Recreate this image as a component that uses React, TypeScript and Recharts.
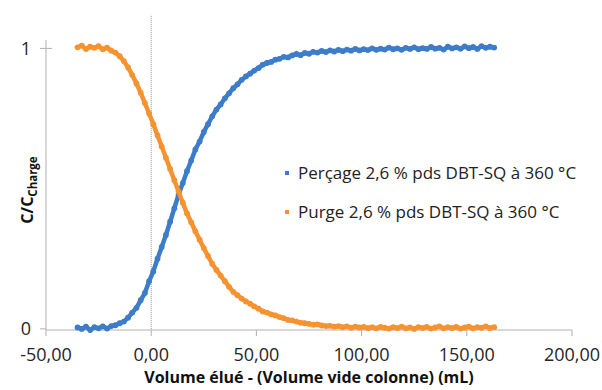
import { ScatterChart, Scatter, XAxis, YAxis, ReferenceLine } from 'recharts';

// volume élué - volume vide colonne (mL)
const volumes = [
  -35, -33, -31, -29, -27, -25, -23, -21, -19, -17,
  -15, -13, -11, -9, -7, -5, -3, -1, 1, 3,
  5, 7, 9, 11, 13, 15, 17, 19, 21, 23,
  25, 27, 29, 31, 33, 35, 37, 39, 41, 43,
  45, 47, 49, 51, 53, 55, 57, 59, 61, 63,
  65, 67, 69, 71, 73, 75, 77, 79, 81, 83,
  85, 87, 89, 91, 93, 95, 97, 99, 101, 103,
  105, 107, 109, 111, 113, 115, 117, 119, 121, 123,
  125, 127, 129, 131, 133, 135, 137, 139, 141, 143,
  145, 147, 149, 151, 153, 155, 157, 159, 161, 163,
];

const percage = [
  0.005, 0.0, 0.008, -0.004, 0.006, 0.002, 0.009, 0.001, 0.01, 0.013,
  0.02, 0.026, 0.04, 0.058, 0.075, 0.102, 0.128, 0.17, 0.205, 0.25,
  0.292, 0.335, 0.382, 0.43, 0.478, 0.52, 0.562, 0.6, 0.64, 0.668,
  0.702, 0.73, 0.758, 0.782, 0.8, 0.822, 0.84, 0.858, 0.872, 0.888,
  0.9, 0.91, 0.921, 0.93, 0.942, 0.948, 0.952, 0.96, 0.963, 0.97,
  0.968, 0.975, 0.98, 0.976, 0.984, 0.981, 0.988, 0.985, 0.991, 0.987,
  0.993, 0.989, 0.995, 0.99, 0.996, 0.992, 0.998, 0.993, 0.997, 0.994,
  1.0, 0.995, 0.999, 0.996, 1.003, 0.997, 1.0, 0.995, 1.002, 0.998,
  1.004, 0.997, 1.001, 0.998, 1.005, 0.999, 1.002, 0.996, 1.006, 1.0,
  1.004, 0.999, 1.007, 1.001, 1.005, 0.998, 1.008, 1.002, 1.006, 1.003,
];

const purge = [
  1.004, 1.01, 0.998, 1.006, 1.002, 1.008, 0.997, 1.003, 0.992, 0.985,
  0.972, 0.955, 0.932, 0.905, 0.875, 0.842, 0.805, 0.768, 0.73, 0.69,
  0.65, 0.61, 0.57, 0.53, 0.49, 0.45, 0.412, 0.38, 0.348, 0.318,
  0.288, 0.26, 0.232, 0.21, 0.19, 0.17, 0.15, 0.132, 0.12, 0.108,
  0.098, 0.09, 0.08, 0.072, 0.062, 0.058, 0.052, 0.048, 0.042, 0.038,
  0.032, 0.03, 0.026, 0.022, 0.02, 0.018, 0.015, 0.016, 0.012, 0.01,
  0.011, 0.008, 0.01, 0.006, 0.009, 0.004, 0.008, 0.005, 0.007, 0.003,
  0.006, 0.002, 0.007, 0.004, 0.001, 0.006, 0.003, 0.008, 0.002, 0.005,
  0.0, 0.006, 0.003, 0.007, 0.001, 0.005, 0.009, 0.002, 0.006, 0.003,
  0.007, 0.001, 0.005, 0.008, 0.002, 0.006, 0.004, 0.009, 0.003, 0.006,
];

const xTicks = [-50, 0, 50, 100, 150, 200];
const yTicks = [0, 1];
const seriesNames = ['Perçage 2,6 % pds DBT-SQ à 360 °C', 'Purge 2,6 % pds DBT-SQ à 360 °C'];

const BLUE = '#3d7cc9';
const ORANGE = '#f59331';
const FONT = "'Open Sans', sans-serif";

const percageData = volumes.map((x, i) => ({ x, y: percage[i] }));
const purgeData = volumes.map((x, i) => ({ x, y: purge[i] }));

const dot = (color: string) => (p: any) => <circle cx={p.cx} cy={p.cy} r={2.9} fill={color} />;

const YTick = (p: any) => {
  const axisX = p.x + 9 + 6;
  const v = p.payload.value;
  return (
    <g>
      <line x1={axisX - 6} x2={v === 0 ? axisX : axisX + 6} y1={p.y} y2={p.y} stroke="#b0b0b0" />
      <text x={p.x} y={p.y} dy="0.36em" textAnchor="end" fill="#262626" fontSize={18} fontFamily={FONT}>
        {v}
      </text>
    </g>
  );
};

const YLabel = () => (
  <text x={33} y={190} transform="rotate(-90 33 190)" textAnchor="middle" fontFamily={FONT} fontWeight="bold" fontSize={16} fill="#111">
    C/C<tspan dy={4} fontSize={11.5}>Charge</tspan>
  </text>
);

export default function App() {
  return (
    <div style={{ position: 'absolute', left: 0, top: 0, width: 602, height: 390, background: '#fff' }}>
      <ScatterChart width={602} height={390} margin={{ top: 40, right: 30, bottom: 0, left: 0 }}>
        <XAxis
          type="number"
          dataKey="x"
          domain={[-50, 200]}
          ticks={xTicks}
          tickFormatter={(v: number) => v.toFixed(2).replace('.', ',')}
          tick={{ fill: '#262626', fontSize: 18, fontFamily: FONT }}
          tickSize={6}
          tickMargin={12}
          stroke="#b0b0b0"
          height={60}
          label={{
            value: 'Volume élué - (Volume vide colonne) (mL)',
            position: 'insideBottom',
            offset: 7,
            fill: '#111',
            fontSize: 16,
            fontWeight: 'bold',
            fontFamily: FONT,
          }}
        />
        <YAxis
          type="number"
          dataKey="y"
          domain={[0, 1.03]}
          ticks={yTicks}
          width={46}
          tickSize={6}
          tickMargin={9}
          tickLine={false}
          tick={YTick}
          stroke="#b0b0b0"
          label={{ content: YLabel }}
        />
        <ReferenceLine
          segment={[{ x: 0, y: 0 }, { x: 0, y: 1.12 }]}
          ifOverflow="visible"
          stroke="#8c8c8c"
          strokeDasharray="1 1"
        />
        <Scatter
          name={seriesNames[0]}
          data={percageData}
          fill={BLUE}
          line={{ stroke: BLUE, strokeWidth: 4.5 }}
          shape={dot(BLUE)}
          isAnimationActive={false}
        />
        <Scatter
          name={seriesNames[1]}
          data={purgeData}
          fill={ORANGE}
          line={{ stroke: ORANGE, strokeWidth: 4.5 }}
          shape={dot(ORANGE)}
          isAnimationActive={false}
        />
      </ScatterChart>
      <div style={{ position: 'absolute', left: 285, top: 162, fontFamily: FONT, fontSize: 17, color: '#222', lineHeight: '22px' }}>
        {seriesNames.map((name, i) => (
          <div key={name} style={{ display: 'flex', alignItems: 'center', whiteSpace: 'nowrap', marginBottom: i === 0 ? 17 : 0 }}>
            <span style={{ width: 4, height: 4, background: i === 0 ? BLUE : ORANGE, marginRight: 9 }} />
            {name}
          </div>
        ))}
      </div>
    </div>
  );
}
